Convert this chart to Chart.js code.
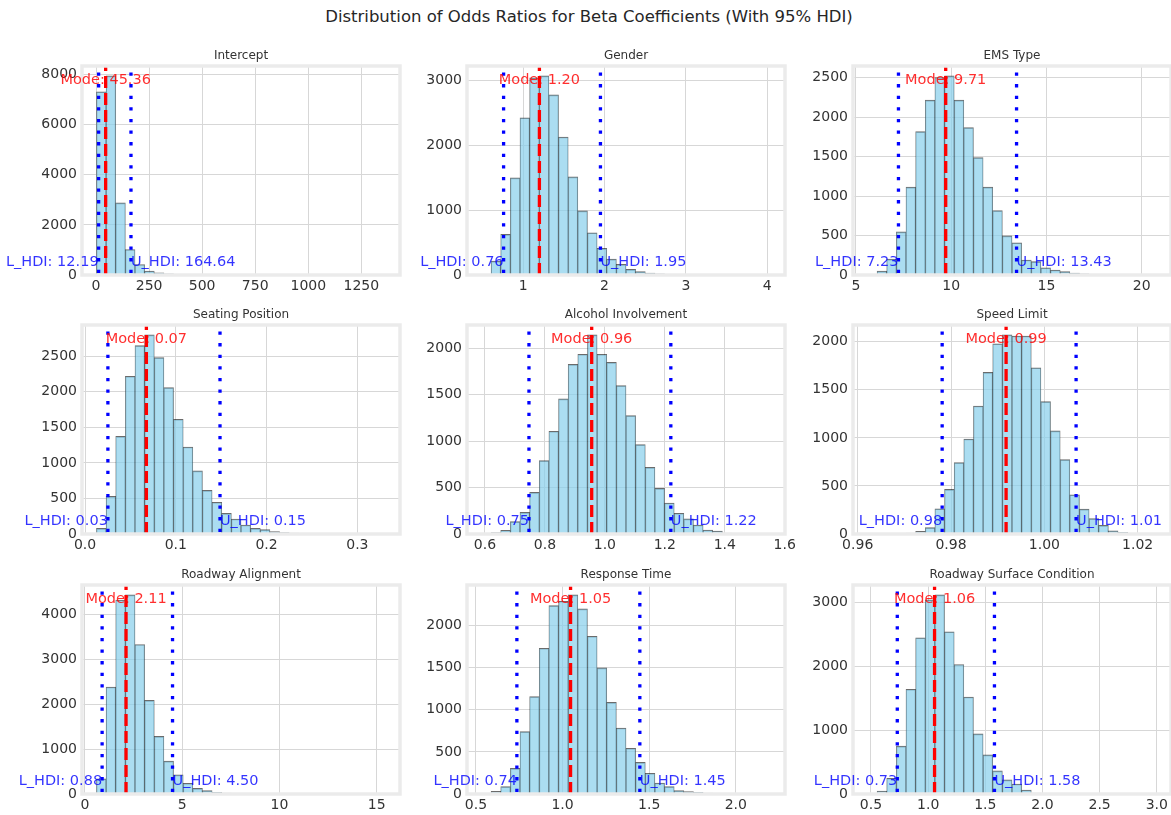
<!DOCTYPE html>
<html><head><meta charset="utf-8">
<script src="https://cdn.jsdelivr.net/npm/chart.js@4.4.1/dist/chart.umd.min.js"></script>
<style>
html,body{margin:0;padding:0;background:#fff;overflow:hidden;width:1171px;height:815px;}
#title{position:absolute;left:0;top:6px;width:1178px;text-align:center;font:16.5px "DejaVu Sans";color:#262626;line-height:22px;}
canvas{position:absolute;}
</style></head><body>
<div id="title">Distribution of Odds Ratios for Beta Coefficients (With 95% HDI)</div>
<script>
// ---------- data ----------
const panelTitles = ['Intercept','Gender','EMS Type','Seating Position','Alcohol Involvement','Speed Limit','Roadway Alignment','Response Time','Roadway Surface Condition'];
const binStarts = [2, 0.488, 5.602, 0.0126, 0.5882, 0.96209, 0.589, 0.5315, 0.469];
const binWidths = [45.4, 0.1184, 0.5059, 0.010615, 0.03215, 0.002065, 0.4954, 0.05564, 0.0843];

const interceptCounts = [7320,7950,2880,1020,420,160,85,45,25,18,12,8,6,5,4,3,2,2,2,1,1,1,1,1,0,1,0,0,0,1];
const genderCounts    = [8,215,626,1497,2426,3040,3070,2779,2128,1513,990,651,410,246,165,87,51,30,18,12,8,5,4,3,2,2,1,1,1,1];
const emsCounts       = [5,50,200,546,1113,1815,2214,2500,2520,2214,1865,1487,1113,815,496,408,190,170,92,63,42,25,15,10,6,4,3,2,1,1];
const seatingCounts   = [80,530,1374,2219,2650,2800,2482,2059,1614,1224,887,614,446,291,211,127,80,61,33,20,12,8,5,3,2,2,1,1,1,1];
const alcoholCounts   = [4,14,40,133,233,449,790,1106,1454,1827,1935,2143,1935,1848,1597,1274,962,718,492,334,223,162,97,43,32,11,5,3,1,1];
const speedCounts     = [1,1,2,4,10,28,67,263,465,742,988,1332,1681,1979,2071,2060,2060,1730,1378,1073,774,408,259,160,89,32,18,8,3,1];
const alignmentCounts = [335,2379,4312,4424,3323,2082,1279,729,424,238,126,74,37,20,12,8,5,4,3,2,2,1,1,1,1,0,1,0,0,1];
const responseCounts  = [8,32,87,305,741,1156,1731,2238,2289,2364,2198,1873,1497,1089,784,543,376,246,131,87,40,28,20,12,8,5,3,2,1,1];
const surfaceCounts   = [10,47,246,749,1639,2445,3037,3115,2539,2026,1518,942,613,361,220,157,63,15,10,6,4,3,2,2,1,1,1,0,1,1];
const allCounts = [interceptCounts, genderCounts, emsCounts, seatingCounts, alcoholCounts, speedCounts, alignmentCounts, responseCounts, surfaceCounts];

const modes    = [45.36, 1.20, 9.71, 0.0676, 0.956, 0.9918, 2.11, 1.046, 1.056];
const lowerHDI = [12.19, 0.76, 7.23, 0.0252, 0.7467, 0.9781, 0.88, 0.736, 0.73];
const upperHDI = [164.64, 1.95, 13.43, 0.1487, 1.22, 1.0068, 4.50, 1.446, 1.58];

const xTickValues = [[0,250,500,750,1000,1250],[1,2,3,4],[5,10,15,20],[0,0.1,0.2,0.3],[0.6,0.8,1.0,1.2,1.4,1.6],[0.96,0.98,1.00,1.02],[0,5,10,15],[0.5,1.0,1.5,2.0],[0.5,1.0,1.5,2.0,2.5,3.0]];
const xTickLabels = [['0','250','500','750','1000','1250'],['1','2','3','4'],['5','10','15','20'],['0.0','0.1','0.2','0.3'],['0.6','0.8','1.0','1.2','1.4','1.6'],['0.96','0.98','1.00','1.02'],['0','5','10','15'],['0.5','1.0','1.5','2.0'],['0.5','1.0','1.5','2.0','2.5','3.0']];
const yTickValues = [[0,2000,4000,6000,8000],[0,1000,2000,3000],[0,500,1000,1500,2000,2500],[0,500,1000,1500,2000,2500],[0,500,1000,1500,2000],[0,500,1000,1500,2000],[0,1000,2000,3000,4000],[0,500,1000,1500,2000],[0,1000,2000,3000]];

// ---------- layout ----------
const colLefts = [82, 467, 853];
const rowTops = [66, 325, 585];
const axW = 318, axH = 209;
const padL = 82, padT = 32, padR = 22, padB = 28;
const FONT = '"DejaVu Sans"';
Chart.defaults.font.family = FONT;

function makePanel(p) {
  const col = p % 3, row = Math.floor(p / 3);
  const cv = document.createElement('canvas');
  const W = padL + axW + padR, H = padT + axH + padB;
  cv.width = W; cv.height = H;
  cv.style.left = (colLefts[col] - padL) + 'px';
  cv.style.top = (rowTops[row] - padT) + 'px';
  cv.style.width = W + 'px'; cv.style.height = H + 'px';
  document.body.appendChild(cv);

  const counts = allCounts[p];
  const start = binStarts[p], w = binWidths[p];
  const n = counts.length;
  const xmin = start - 0.05 * n * w, xmax = start + n * w + 0.05 * n * w;
  const ymax = Math.max(...counts) * 1.05;
  const data = counts.map((c, i) => ({x: start + (i + 0.5) * w, y: c}));

  const overlay = {
    id: 'overlay' + p,
    afterDatasetsDraw(chart) {
      const {ctx, chartArea: a, scales: {x, y}} = chart;
      ctx.save();
      ctx.lineCap = 'butt';
      const mx = x.getPixelForValue(modes[p]);
      ctx.strokeStyle = '#ff0000'; ctx.lineWidth = 3.3; ctx.setLineDash([12, 5]);
      ctx.beginPath(); ctx.moveTo(mx, a.bottom); ctx.lineTo(mx, a.top); ctx.stroke();
      ctx.strokeStyle = '#0000ff'; ctx.lineWidth = 3.3; ctx.setLineDash([3.3, 8.3]);
      [lowerHDI[p], upperHDI[p]].forEach(v => {
        const px = x.getPixelForValue(v);
        ctx.beginPath(); ctx.moveTo(px, a.bottom - 2); ctx.lineTo(px, a.top); ctx.stroke();
      });
      ctx.setLineDash([]);
      ctx.strokeStyle = '#ebebeb'; ctx.lineWidth = 3.5;
      ctx.strokeRect(a.left, a.top, a.right - a.left, a.bottom - a.top);
      ctx.font = '14.5px ' + FONT;
      ctx.textBaseline = 'middle';
      ctx.fillStyle = 'rgba(255,0,0,0.82)'; ctx.textAlign = 'center';
      ctx.fillText('Mode: ' + modes[p].toFixed(2), mx, y.getPixelForValue(Math.max(...counts)) + 4);
      const y0 = y.getPixelForValue(0) - 12.5;
      ctx.fillStyle = 'rgba(0,0,255,0.8)';
      ctx.textAlign = 'right';
      ctx.fillText('L_HDI: ' + lowerHDI[p].toFixed(2), x.getPixelForValue(lowerHDI[p]), y0);
      ctx.textAlign = 'left';
      ctx.fillText('U_HDI: ' + upperHDI[p].toFixed(2), x.getPixelForValue(upperHDI[p]), y0);
      ctx.font = '12px ' + FONT;
      ctx.fillStyle = '#333333'; ctx.textAlign = 'center'; ctx.textBaseline = 'alphabetic';
      ctx.fillText(panelTitles[p], (a.left + a.right) / 2, a.top - 7.5);
      ctx.restore();
    }
  };

  new Chart(cv, {
    type: 'bar',
    data: {datasets: [{
      data,
      backgroundColor: 'rgba(135,206,235,0.7)',
      borderColor: 'rgba(0,0,0,0.58)',
      borderWidth: {top: 1, left: 0.6, right: 0.6, bottom: 0},
      borderSkipped: false,
      barPercentage: 1, categoryPercentage: 1
    }]},
    options: {
      responsive: false, animation: false, devicePixelRatio: 1,
      layout: {padding: {left: 0, top: padT, right: padR, bottom: 0}},
      plugins: {legend: {display: false}, tooltip: {enabled: false}, title: {display: false}},
      scales: {
        x: {
          type: 'linear', min: xmin, max: xmax, offset: false,
          grid: {color: '#d7d7d7', lineWidth: 1, drawTicks: false, offset: false},
          border: {display: false},
          ticks: {autoSkip: false, maxRotation: 0, padding: 3, color: '#333333', font: {size: 14},
                  callback: (v, i) => xTickLabels[p][i]},
          afterBuildTicks: s => { s.ticks = xTickValues[p].map(v => ({value: v})); },
          afterFit: s => { s.height = padB; }
        },
        y: {
          type: 'linear', min: 0, max: ymax,
          grid: {color: '#d7d7d7', lineWidth: 1, drawTicks: false},
          border: {display: false},
          ticks: {autoSkip: false, padding: 5, color: '#333333', font: {size: 14},
                  callback: (v) => String(v)},
          afterBuildTicks: s => { s.ticks = yTickValues[p].map(v => ({value: v})); },
          afterFit: s => { s.width = padL; }
        }
      }
    },
    plugins: [overlay]
  });
}
for (let p = 0; p < 9; p++) makePanel(p);
</script></body></html>
